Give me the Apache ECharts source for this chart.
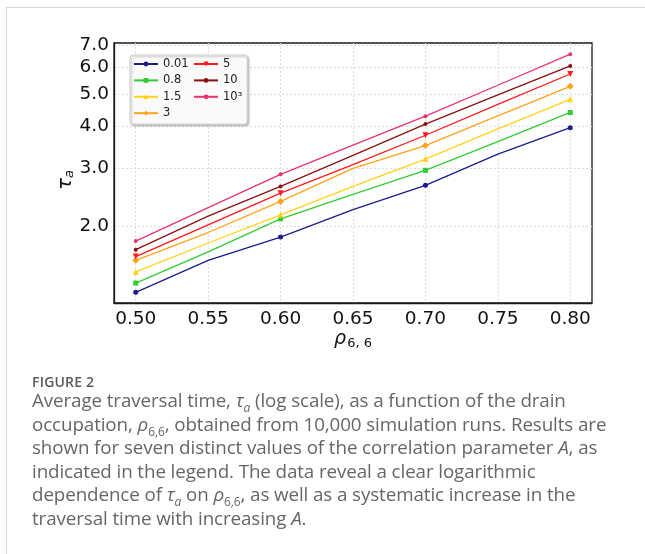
<!DOCTYPE html>
<html>
<head>
<meta charset="utf-8">
<script src="https://cdn.jsdelivr.net/npm/echarts@6/dist/echarts.min.js"></script>
<style>
  html, body { margin: 0; padding: 0; background: #fff; }
  #wrap { position: relative; width: 645px; height: 554px; overflow: hidden; }
  #frame { position: absolute; left: 6px; top: 7px; width: 650px; height: 560px;
           border-top: 1px solid #d6d6d6; border-left: 1px solid #d6d6d6; }
  #chart { position: absolute; left: 0; top: 0; width: 645px; height: 554px; }
  #figno { position: absolute; left: 32px; top: 372px; font: 600 14px "Open Sans", sans-serif;
           color: #5a5a5a; letter-spacing: 0.2px; }
  #caption { position: absolute; left: 32px; top: 389px; font: 18.8px "Open Sans", sans-serif;
             line-height: 23.6px; color: #666; white-space: nowrap; letter-spacing: -0.1px; }
  #caption sub { font-size: 12px; line-height: 0; }
</style>
</head>
<body>
<div id="wrap">
  <div id="frame"></div>
  <div id="chart"></div>
  <div id="figno">FIGURE 2</div>
  <div id="caption">
    Average traversal time, <i>τ<sub>a</sub></i> (log scale), as a function of the drain<br>
    occupation, <i>ρ</i><sub>6,6</sub>, obtained from 10,000 simulation runs. Results are<br>
    shown for seven distinct values of the correlation parameter <i>A</i>, as<br>
    indicated in the legend. The data reveal a clear logarithmic<br>
    dependence of <i>τ<sub>a</sub></i> on <i>ρ</i><sub>6,6</sub>, as well as a systematic increase in the<br>
    traversal time with increasing <i>A</i>.
  </div>
</div>
<script>
// occupation rho_6,6
const rho = [0.50, 0.55, 0.60, 0.65, 0.70, 0.75, 0.80];
// legend names (values of A)
const names = ['0.01', '0.8', '1.5', '3', '5', '10', '10³'];
// average traversal time tau_a for each A
const tauA001 = [1.27, 1.585, 1.86, 2.25, 2.66, 3.30, 3.96];
const tauA08 = [1.354, 1.68, 2.11, 2.50, 2.95, 3.60, 4.40];
const tauA15 = [1.462, 1.786, 2.17, 2.64, 3.19, 3.93, 4.82];
const tauA3 = [1.585, 1.92, 2.38, 2.99, 3.50, 4.30, 5.27];
const tauA5 = [1.626, 2.025, 2.52, 3.07, 3.76, 4.65, 5.74];
const tauA10 = [1.706, 2.15, 2.64, 3.27, 4.06, 4.97, 6.07];
const tauA1000 = [1.81, 2.28, 2.87, 3.51, 4.29, 5.31, 6.58];
// tick labels
const xTicks = [0.50, 0.55, 0.60, 0.65, 0.70, 0.75, 0.80];
const yTicks = [2, 3, 4, 5, 6, 7];

const allTau = [tauA001, tauA08, tauA15, tauA3, tauA5, tauA10, tauA1000];
const colors = ['#1c1c8c', '#33cc33', '#ffd21a', '#ffa31a', '#ff1a1a', '#8b1010', '#e8336e'];
const symbols = ['circle', 'rect', 'triangle', 'diamond',
  'path://M0,0 L10,0 L5,10 Z', 'circle', 'circle'];
const symSizes = [5, 5, 6, 7, 6, 4, 4];

let myChart = echarts.init(document.getElementById('chart'));

// markers only on every second point (0.50, 0.60, 0.70, 0.80)
let series = allTau.map(function (vals, i) {
  return {
    name: names[i],
    type: 'line',
    data: vals.map(function (v, j) {
      let item = { value: [rho[j], v] };
      if (j % 2 === 1) item.symbol = 'none';
      return item;
    }),
    symbol: symbols[i],
    symbolSize: symSizes[i],
    showAllSymbol: true,
    lineStyle: { color: colors[i], width: 1.3 },
    itemStyle: { color: colors[i] },
    emphasis: { disabled: true },
    animation: false
  };
});

myChart.setOption({
  animation: false,
  textStyle: { fontFamily: 'DejaVu Sans' },
  grid: {
    left: 114, right: 53, top: 43, bottom: 251,
    show: true, borderColor: '#1a1a1a', borderWidth: 1.3
  },
  legend: {
    orient: 'vertical',
    left: 130, top: 55, height: 66,
    itemWidth: 24, itemHeight: 6, itemGap: 4.4,
    padding: [3, 5, 5, 3],
    backgroundColor: '#fafafa',
    borderColor: '#cccccc', borderWidth: 1, borderRadius: 3,
    shadowColor: 'rgba(0,0,0,0.25)', shadowBlur: 2, shadowOffsetX: 1.5, shadowOffsetY: 1.5,
    textStyle: { fontSize: 11.5, color: '#222', fontFamily: 'DejaVu Sans' },
    data: names
  },
  xAxis: {
    type: 'value',
    min: 0.485, max: 0.815,
    name: '{r|ρ}{s|6, 6}',
    nameLocation: 'middle',
    nameGap: 20,
    nameTextStyle: {
      rich: {
        r: { fontSize: 19, fontStyle: 'italic', color: '#111', fontFamily: 'DejaVu Sans' },
        s: { fontSize: 13, color: '#111', fontFamily: 'DejaVu Sans', padding: [8, 0, 0, 1] }
      }
    },
    axisLine: { show: true, lineStyle: { color: '#1a1a1a', width: 1.3 } },
    axisTick: { show: false, customValues: xTicks },
    axisLabel: {
      customValues: xTicks,
      fontSize: 18.5, color: '#111', margin: 7,
      formatter: function (v) { return v.toFixed(2); }
    },
    splitLine: { show: true, lineStyle: { color: '#dcdcdc', type: [2, 2], width: 1 } }
  },
  yAxis: {
    type: 'log',
    logBase: 10,
    min: 1.18, max: 7.11,
    name: '{t|τ}{s|a}',
    nameLocation: 'middle',
    nameMoveOverlap: false,
    nameGap: 38,
    nameTextStyle: {
      padding: [0, 14, 0, 0],
      rich: {
        t: { fontSize: 20, fontStyle: 'italic', color: '#111', fontFamily: 'DejaVu Sans' },
        s: { fontSize: 13, fontStyle: 'italic', color: '#111', fontFamily: 'DejaVu Sans', padding: [8, 0, 0, 0] }
      }
    },
    axisLine: { show: true, lineStyle: { color: '#1a1a1a', width: 1.3 } },
    axisTick: { show: false, customValues: yTicks },
    axisLabel: {
      customValues: yTicks,
      fontSize: 18.5, color: '#111', margin: 5,
      formatter: function (v) { return Number(v).toFixed(1); }
    },
    splitLine: { show: true, lineStyle: { color: '#dcdcdc', type: [2, 2], width: 1 } }
  },
  series: series
});
</script>
</body>
</html>
